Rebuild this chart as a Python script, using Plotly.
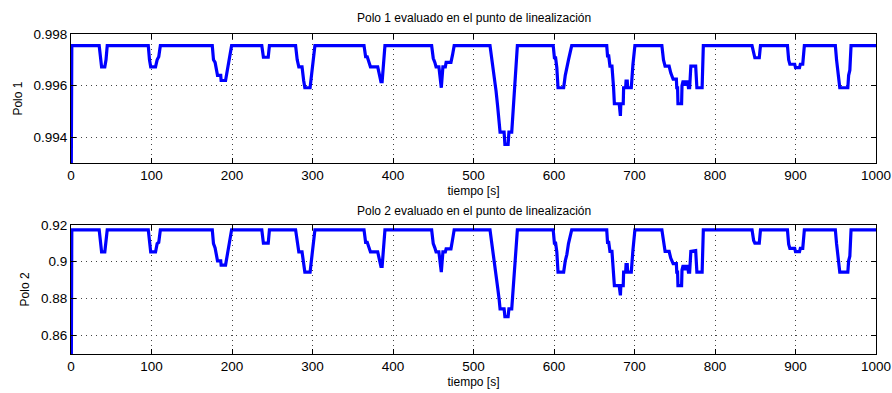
import plotly.graph_objects as go

# time [s]
t = [0, 1,
     35, 37, 38, 42, 43.5, 45,
     96, 97.5, 99, 105, 107, 109, 111,
     175.5, 177, 179, 181, 182, 186, 186.5, 192, 193, 195, 197, 199.5,
     237, 239, 245, 246.5,
     279, 281, 283, 287, 289, 290.5, 297, 299, 301, 303,
     364, 366, 368, 370, 372, 381, 383, 385, 386.5, 388, 390,
     448, 450, 452, 453.5, 457, 460, 462, 465, 466, 472, 474, 476,
     520.5, 523, 526, 528, 530, 532, 533, 538, 539, 543, 544, 547.5, 549, 551, 553, 554.5,
     599, 600.5, 602, 603.5, 605, 612, 614, 616, 618, 622,
     665.5, 666.5, 668, 669.5, 672, 674, 675, 681, 681.5, 682.5, 683, 686, 686.5, 689, 689.5, 691, 691.5, 696, 698, 700.5,
     734, 736, 738, 743, 745, 748, 752, 752.5, 753.5, 754, 758.5, 759, 760.5, 761.5, 763, 764.5, 766, 767, 768.5, 770, 776, 777.5, 784, 785.5,
     846, 848, 849.5, 855, 856.5,
     890, 891.5, 893, 899, 900, 905, 906, 909, 911,
     949.5, 951, 953, 955, 965, 966, 967.5, 969,
     1000]

polo1 = [0.990, 0.99755,
         0.99755, 0.99690, 0.99673, 0.99673, 0.99700, 0.99755,
         0.99755, 0.99700, 0.99673, 0.99673, 0.99700, 0.99712, 0.99755,
         0.99755, 0.99700, 0.99690, 0.99660, 0.99640, 0.99640, 0.99620, 0.99620, 0.99640, 0.99670, 0.99700, 0.99755,
         0.99755, 0.99710, 0.99710, 0.99755,
         0.99755, 0.99700, 0.99673, 0.99673, 0.99620, 0.99592, 0.99592, 0.99650, 0.99700, 0.99755,
         0.99755, 0.99712, 0.99712, 0.99690, 0.99673, 0.99673, 0.99640, 0.99616, 0.99616, 0.99680, 0.99755,
         0.99755, 0.99706, 0.99690, 0.99673, 0.99673, 0.99592, 0.99673, 0.99673, 0.99690, 0.99690, 0.99720, 0.99755,
         0.99755, 0.99700, 0.99640, 0.99580, 0.99520, 0.99460, 0.99420, 0.99420, 0.99373, 0.99373, 0.99420, 0.99420, 0.99500, 0.99600, 0.99700, 0.99755,
         0.99755, 0.99708, 0.99708, 0.99670, 0.99592, 0.99592, 0.99640, 0.99665, 0.99700, 0.99755,
         0.99755, 0.99715, 0.99715, 0.99676, 0.99676, 0.99592, 0.99530, 0.99530, 0.99483, 0.99483, 0.99530, 0.99530, 0.99592, 0.99592, 0.99618, 0.99618, 0.99592, 0.99592, 0.99680, 0.99755,
         0.99755, 0.99700, 0.99676, 0.99676, 0.99650, 0.99625, 0.99625, 0.99592, 0.99592, 0.99530, 0.99530, 0.99600, 0.99620, 0.99600, 0.99620, 0.99600, 0.99620, 0.99592, 0.99592, 0.99676, 0.99676, 0.99592, 0.99592, 0.99755,
         0.99755, 0.99720, 0.99708, 0.99708, 0.99755,
         0.99755, 0.99700, 0.99683, 0.99683, 0.99670, 0.99670, 0.99683, 0.99683, 0.99755,
         0.99755, 0.99700, 0.99650, 0.99592, 0.99592, 0.99640, 0.99660, 0.99755,
         0.99755]

polo2 = [0.800, 0.9173,
         0.9173, 0.9075, 0.9053, 0.9053, 0.9098, 0.9173,
         0.9173, 0.9098, 0.9053, 0.9053, 0.9098, 0.9105, 0.9173,
         0.9173, 0.9098, 0.9075, 0.9030, 0.9005, 0.9005, 0.8982, 0.8982, 0.9005, 0.9050, 0.9098, 0.9173,
         0.9173, 0.9101, 0.9101, 0.9173,
         0.9173, 0.9098, 0.9053, 0.9053, 0.8982, 0.8944, 0.8944, 0.9020, 0.9098, 0.9173,
         0.9173, 0.9105, 0.9105, 0.9075, 0.9053, 0.9053, 0.9005, 0.8975, 0.8975, 0.9065, 0.9173,
         0.9173, 0.9098, 0.9075, 0.9053, 0.9053, 0.8944, 0.9053, 0.9053, 0.9070, 0.9070, 0.9120, 0.9173,
         0.9173, 0.9098, 0.9005, 0.8930, 0.8860, 0.8790, 0.8745, 0.8745, 0.8703, 0.8703, 0.8745, 0.8745, 0.8835, 0.8955, 0.9098, 0.9173,
         0.9173, 0.9101, 0.9101, 0.9053, 0.8944, 0.8944, 0.9005, 0.9040, 0.9098, 0.9173,
         0.9173, 0.9105, 0.9105, 0.9056, 0.9056, 0.8944, 0.8870, 0.8870, 0.8818, 0.8818, 0.8870, 0.8870, 0.8944, 0.8944, 0.8984, 0.8984, 0.8944, 0.8944, 0.9060, 0.9173,
         0.9173, 0.9098, 0.9056, 0.9056, 0.9020, 0.8990, 0.8990, 0.8944, 0.8944, 0.8870, 0.8870, 0.8955, 0.8982, 0.8955, 0.8982, 0.8955, 0.8982, 0.8944, 0.8944, 0.9056, 0.9060, 0.8944, 0.8944, 0.9173,
         0.9173, 0.9115, 0.9101, 0.9101, 0.9173,
         0.9173, 0.9095, 0.9072, 0.9072, 0.9055, 0.9055, 0.9072, 0.9072, 0.9173,
         0.9173, 0.9098, 0.9020, 0.8944, 0.8944, 0.9005, 0.9030, 0.9173,
         0.9173]

x_ticks = [0, 100, 200, 300, 400, 500, 600, 700, 800, 900, 1000]
y1_ticks = [0.994, 0.996, 0.998]
y1_labels = ["0.994", "0.996", "0.998"]
y2_ticks = [0.86, 0.88, 0.9, 0.92]
y2_labels = ["0.86", "0.88", "0.9", "0.92"]

title1 = "Polo 1 evaluado en el punto de linealización"
title2 = "Polo 2 evaluado en el punto de linealización"

FONT = "Liberation Sans, Arial, sans-serif"
BLUE = "#0000ff"

fig = go.Figure()
fig.add_trace(go.Scatter(x=t, y=polo1, mode="lines", line=dict(color=BLUE, width=3.2),
                         xaxis="x", yaxis="y", showlegend=False))
fig.add_trace(go.Scatter(x=t, y=polo2, mode="lines", line=dict(color=BLUE, width=3.2),
                         xaxis="x2", yaxis="y2", showlegend=False))

axis_common = dict(showline=True, linecolor="black", linewidth=1, mirror="ticks",
                   ticks="inside", ticklen=5, tickcolor="black",
                   showgrid=True, gridcolor="#444444", griddash="1px,4px", gridwidth=1,
                   zeroline=False, automargin=False,
                   tickfont=dict(family=FONT, size=13.5, color="black"))

fig.update_layout(
    width=892, height=393,
    margin=dict(l=71, r=16, t=34, b=39),
    paper_bgcolor="white", plot_bgcolor="white",
    font=dict(family=FONT, color="black"),
    xaxis=dict(domain=[0, 1], range=[0, 1000], tickvals=x_ticks, anchor="y",
               title=dict(text="tiempo [s]", font=dict(size=12), standoff=4), **axis_common),
    yaxis=dict(domain=[0.5963, 1], range=[0.993, 0.998], tickvals=y1_ticks, ticktext=y1_labels,
               anchor="x", title=dict(text="Polo 1", font=dict(size=12), standoff=8), **axis_common),
    xaxis2=dict(domain=[0, 1], range=[0, 1000], tickvals=x_ticks, anchor="y2",
                title=dict(text="tiempo [s]", font=dict(size=12), standoff=4), **axis_common),
    yaxis2=dict(domain=[0, 0.4037], range=[0.85, 0.92], tickvals=y2_ticks, ticktext=y2_labels,
                anchor="x2", title=dict(text="Polo 2", font=dict(size=12), standoff=8), **axis_common),
    annotations=[
        dict(text=title1, xref="paper", yref="paper", x=0.5, y=1.0, yshift=16,
             xanchor="center", yanchor="middle", showarrow=False,
             font=dict(family=FONT, size=12, color="black")),
        dict(text=title2, xref="paper", yref="paper", x=0.5, y=0.4037, yshift=14,
             xanchor="center", yanchor="middle", showarrow=False,
             font=dict(family=FONT, size=12, color="black")),
    ],
)

fig.write_html("out.html")
